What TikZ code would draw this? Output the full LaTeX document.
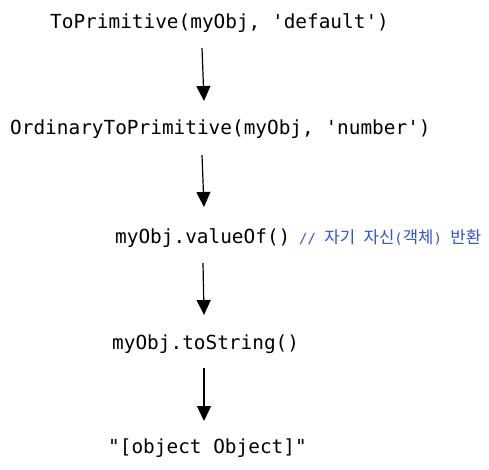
\documentclass[tikz,border=0pt]{standalone}
\usepackage{fontspec}
\setmonofont{DejaVu Sans Mono}
\newfontfamily\krfont{Noto Sans CJK KR}
\usetikzlibrary{arrows.meta}
\definecolor{cmtblue}{RGB}{52,84,204}
\newcommand\hk[1]{{\krfont\fontsize{16.7}{18}\selectfont #1}}
\tikzset{
  code/.style={inner sep=0pt, anchor=base west, font=\ttfamily\fontsize{19.4}{22}\selectfont},
  cmt/.style={inner sep=0pt, anchor=base west, text=cmtblue, font=\ttfamily\fontsize{14}{18}\selectfont},
  flow/.style={line width=1.2pt, -{Triangle[width=14pt,length=15pt]}}
}
\begin{document}
\begin{tikzpicture}[x=1pt,y=-1pt]
\useasboundingbox[fill=white] (0,0) rectangle (489,470);
\node[code] (t1) at (50,29) {ToPrimitive(myObj, 'default')};
\node[code] (t2) at (10,135) {OrdinaryToPrimitive(myObj, 'number')};
\node[code] (t3) at (115,243) {myObj.valueOf()};
\node[cmt] (c3) at (299,243) {//\ \hk{자기}\ \hk{자신}(\hk{객체})\ \hk{반환}};
\node[code] (t4) at (112,349) {myObj.toString()};
\node[code] (t5) at (108,453) {"[object Object]"};
\coordinate (a1s) at (202,48);  \coordinate (a1e) at (204,101);
\coordinate (a2s) at (202,155); \coordinate (a2e) at (204,207);
\coordinate (a3s) at (203,263); \coordinate (a3e) at (204,315);
\coordinate (a4s) at (204,368); \coordinate (a4e) at (204,421);
\draw[flow] (a1s) -- (a1e);
\draw[flow] (a2s) -- (a2e);
\draw[flow] (a3s) -- (a3e);
\draw[flow] (a4s) -- (a4e);
\end{tikzpicture}
\end{document}
